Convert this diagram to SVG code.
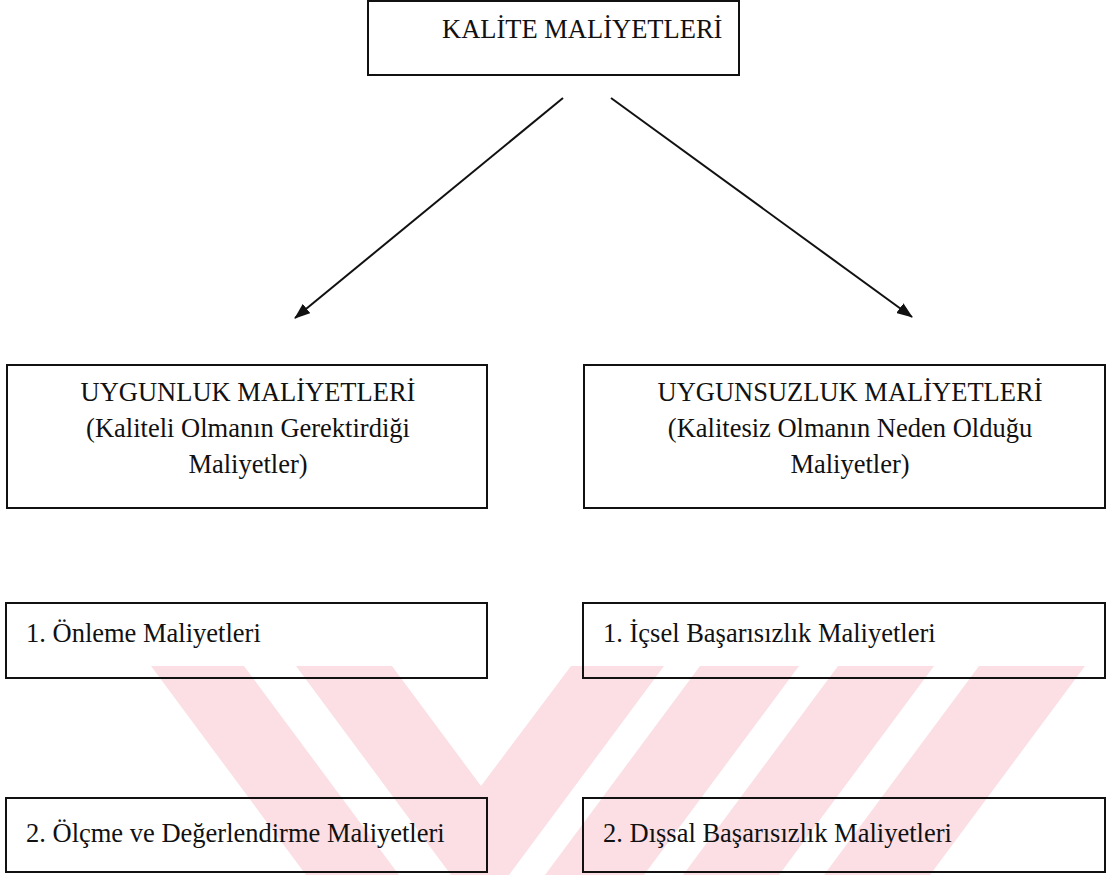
<svg xmlns="http://www.w3.org/2000/svg" width="1106" height="875" viewBox="0 0 1106 875">
  <style>
    .box { fill: none; stroke: #111; stroke-width: 2; }
    .t { font-family: 'Liberation Serif', 'DejaVu Serif', 'Times New Roman', Times, serif; font-size: 26.5px; fill: #111; }
    .c { text-anchor: middle; }
    .wm { fill: #fbdfe4; }
    .conn { stroke: #111; stroke-width: 2; fill: none; }
  </style>
  <defs>
    <marker id="arrow" viewBox="0 0 16 12" refX="15" refY="6" markerWidth="16" markerHeight="12" markerUnits="userSpaceOnUse" orient="auto">
      <path d="M0,0 L16,6 L0,12 z" fill="#111"/>
    </marker>
  </defs>
  <rect width="1106" height="875" fill="#ffffff"/>

  <g id="watermark">
    <polygon class="wm" points="151,666 244,666 399,875 306,875"/>
    <polygon class="wm" points="296,666 392,666 481,786 571,666 664,666 509,875 451,875"/>
    <polygon class="wm" points="700,666 799,666 644,875 545,875"/>
    <polygon class="wm" points="838,666 934,666 779,875 683,875"/>
    <polygon class="wm" points="979,666 1085,666 930,875 824,875"/>
  </g>

  <g id="connectors">
    <line class="conn" x1="563" y1="98" x2="295" y2="318" marker-end="url(#arrow)"/>
    <line class="conn" x1="611" y1="98" x2="912" y2="317" marker-end="url(#arrow)"/>
  </g>

  <g id="kalite">
    <rect class="box" x="368" y="1" width="371" height="74"/>
    <text class="t" x="442" y="38">KALİTE MALİYETLERİ</text>
  </g>

  <g id="uygunluk">
    <rect class="box" x="7" y="365" width="480" height="143"/>
    <text class="t c" x="248" y="401">UYGUNLUK MALİYETLERİ</text>
    <text class="t c" x="248" y="437">(Kaliteli Olmanın Gerektirdiği</text>
    <text class="t c" x="248" y="473">Maliyetler)</text>
  </g>

  <g id="uygunsuzluk">
    <rect class="box" x="584" y="365" width="521" height="143"/>
    <text class="t c" x="850" y="401">UYGUNSUZLUK MALİYETLERİ</text>
    <text class="t c" x="850" y="437">(Kalitesiz Olmanın Neden Olduğu</text>
    <text class="t c" x="850" y="473">Maliyetler)</text>
  </g>

  <g id="onleme">
    <rect class="box" x="6" y="603" width="481" height="75"/>
    <text class="t" x="26" y="642">1. Önleme Maliyetleri</text>
  </g>

  <g id="icsel">
    <rect class="box" x="583" y="603" width="522" height="75"/>
    <text class="t" x="603" y="642">1. İçsel Başarısızlık Maliyetleri</text>
  </g>

  <g id="olcme">
    <rect class="box" x="6" y="798" width="481" height="74"/>
    <text class="t" x="26" y="842">2. Ölçme ve Değerlendirme Maliyetleri</text>
  </g>

  <g id="dissal">
    <rect class="box" x="583" y="798" width="522" height="74"/>
    <text class="t" x="603" y="842">2. Dışsal Başarısızlık Maliyetleri</text>
  </g>
</svg>
